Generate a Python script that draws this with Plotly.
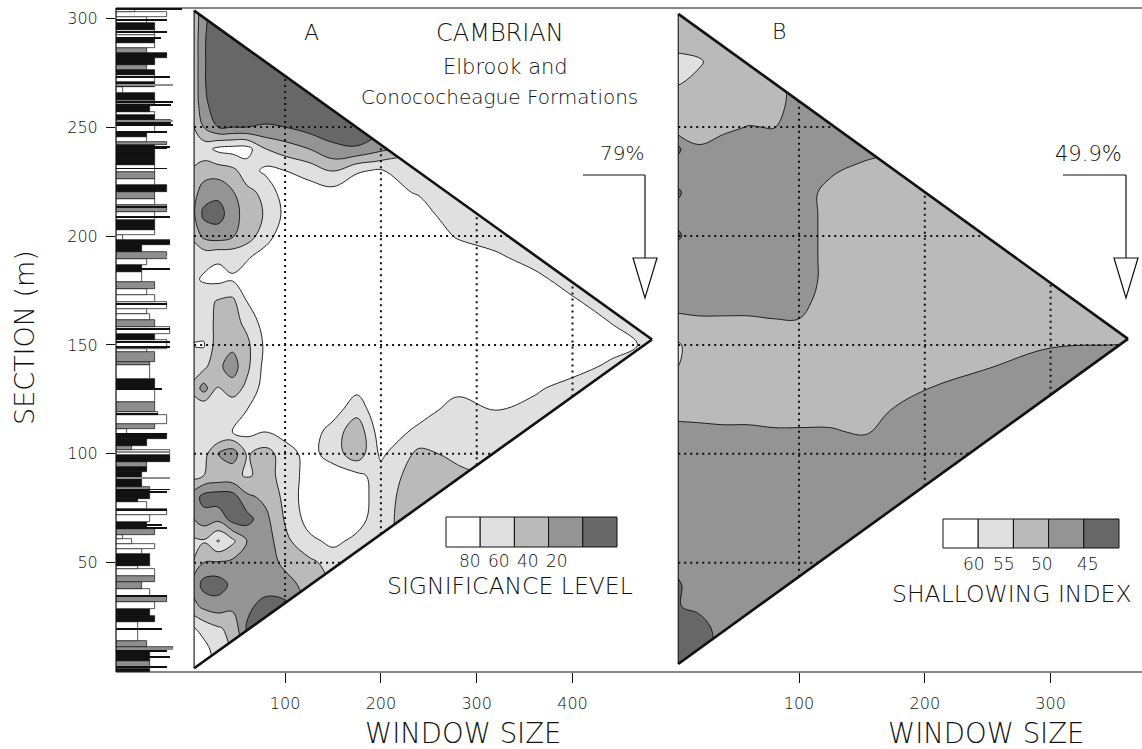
import plotly.graph_objects as go

FIG_W, FIG_H = 1142, 749
FONT = "DejaVu Sans"
INK = "#111111"

# ---------------- stratigraphic column (listed from base to top) ----------------
bed_top = [1.2, 5.0, 8.9, 10.2, 11.2, 14.2, 19.6, 22.7, 25.7, 28.8, 31.8, 34.9, 38.0, 41.0,
           44.0, 47.2, 48.7, 54.1, 56.4, 58.7, 61.0, 62.5, 65.5, 68.6, 71.7, 74.8, 77.8, 79.3,
           83.2, 84.7, 91.6, 93.9, 96.2, 99.3, 101.6, 103.8, 106.9, 109.2, 111.5, 113.8, 117.7,
           119.2, 123.8, 129.9, 134.5, 140.6, 142.2, 146.8, 148.3, 152.1, 155.2, 158.2, 161.3,
           164.4, 166.7, 169.7, 172.8, 175.9, 178.9, 183.5, 186.6, 189.6, 192.7, 195.8, 198.1,
           200.4, 202.7, 207.3, 211.1, 214.1, 217.2, 220.3, 223.3, 226.4, 229.5, 232.5, 238.7,
           241.7, 243.3, 245.6, 247.9, 250.9, 253.2, 255.5, 257.0, 260.1, 262.4, 265.5, 268.5,
           270.8, 273.9, 276.2, 278.5, 281.6, 283.9, 286.2, 288.5, 290.8, 292.3, 294.6, 297.6,
           300.7, 303.0, 304.5]
bed_texture = [2.65, 2.65, 2.65, 2.8, 4.45, 2.4, 1.7, 1.7, 3.05, 2.65, 3.05, 4.0, 2.65, 2.0,
               3.05, 3.05, 1.7, 2.65, 2.0, 3.05, 1.25, 0.55, 3.05, 2.4, 2.65, 4.0, 2.4, 1.7,
               2.65, 2.65, 2.0, 2.4, 2.4, 4.2, 4.2, 1.25, 2.4, 4.0, 0.85, 3.05, 4.0,
               3.3, 3.05, 3.05, 3.05, 2.65, 2.65, 3.05, 2.4, 4.0, 3.05, 4.2, 3.05,
               2.65, 2.4, 4.0, 3.05, 2.4, 3.05, 2.0, 2.0, 2.4, 4.0, 2.0, 4.2,
               0.55, 3.05, 3.05, 3.05, 4.0, 3.05, 3.05, 4.0, 3.05, 3.05, 3.05, 3.05,
               3.05, 4.0, 2.4, 2.4, 3.05, 4.3, 3.05, 3.05, 2.65, 3.05, 3.05, 0.55,
               3.05, 3.05, 3.05, 2.4, 3.05, 4.0, 2.4, 3.05, 3.05, 3.05, 3.05, 3.05,
               2.4, 4.0, 1.5]
bed_shade = ["k", "g", "k", "g", "g", "g", "w", "w", "k", "k", "w", "g", "w", "g",
             "g", "w", "w", "k", "w", "w", "w", "w", "g", "k", "w", "w", "w", "k",
             "k", "g", "k", "k", "g", "k", "w", "g", "k", "k", "w", "g", "w",
             "w", "g", "w", "k", "w", "g", "g", "w", "w", "k", "w", "g",
             "w", "w", "w", "w", "w", "g", "w", "k", "w", "g", "k", "k",
             "w", "w", "k", "w", "g", "w", "g", "k", "w", "g", "w", "k",
             "k", "g", "w", "k", "w", "k", "k", "w", "k", "g", "k", "w",
             "k", "w", "k", "g", "k", "k", "g", "w", "k", "w", "w", "k",
             "w", "w", "w"]

# thin laminae that run past the bed outlines
streak_m = [2.0, 6.6, 9.6, 10.4, 19.6, 34.6, 65.9, 67.1, 74.0, 82.4, 83.6, 88.8, 97.0, 98.5,
            100.8, 109.2, 118.4, 129.9, 149.0, 151.3, 157.5, 168.9, 185.0, 190.4, 197.3,
            208.8, 213.4, 231.0, 240.2, 241.0, 247.9, 250.9, 252.8, 260.1, 261.6, 269.3,
            273.1, 283.4, 290.8, 293.8, 299.2, 304.2]
streak_texture = [4.0, 4.2, 4.0, 4.45, 3.57, 4.0, 4.0, 3.57, 4.0, 4.0, 4.2, 4.2, 4.2, 4.2,
                  4.2, 4.0, 3.3, 3.57, 4.2, 4.2, 4.2, 4.0, 4.2, 4.0, 4.2,
                  4.2, 4.0, 4.0, 4.0, 4.2, 4.0, 4.45, 4.45, 4.3, 4.45, 4.45,
                  4.2, 4.0, 3.5, 4.0, 4.0, 5.1]
streak_shade = ["k", "k", "k", "g", "k", "k", "k", "k", "k", "k", "k", "g", "k", "k",
                "g", "k", "k", "k", "k", "k", "k", "k", "k", "g", "k",
                "k", "k", "k", "k", "k", "k", "k", "g", "k", "k", "g",
                "k", "k", "k", "k", "k", "k"]

SHADE_COLOR = {"k": INK, "g": "#8e8e8e", "w": "#ffffff"}

# ---------------- panel A: significance level ----------------
A_WINDOW = [0, 15, 30, 45, 60, 80, 100, 125, 150, 175, 200, 240, 280, 320, 360, 400, 440, 490]
A_SECTION = list(range(0, 311, 10))
A_SIGNIFICANCE = [
    [92, 90, 75, 60, 25, 12, 15, 45, 60, 65, 65, 45, 50, 65, 65, 65, 65, 68],   # 0
    [90, 88, 70, 58, 25, 12, 15, 45, 60, 65, 65, 45, 50, 65, 65, 65, 65, 68],   # 10
    [85, 72, 62, 55, 18, 12, 15, 45, 60, 65, 65, 45, 50, 65, 65, 65, 65, 68],   # 20
    [50, 35, 30, 35, 25, 12, 15, 45, 60, 65, 65, 45, 50, 65, 65, 65, 65, 68],   # 30
    [45, 12, 10, 25, 35, 30, 32, 48, 62, 65, 65, 45, 50, 65, 65, 65, 65, 68],   # 40
    [65, 40, 38, 35, 28, 30, 45, 55, 68, 68, 65, 45, 50, 65, 65, 65, 65, 68],   # 50
    [65, 62, 82, 65, 40, 30, 55, 75, 85, 75, 68, 45, 50, 65, 65, 65, 65, 68],   # 60
    [45, 30, 35, 12, 12, 35, 62, 88, 92, 88, 68, 45, 50, 65, 65, 65, 65, 68],   # 70
    [40, 12, 8, 10, 35, 45, 65, 92, 95, 90, 70, 45, 50, 65, 65, 65, 65, 68],    # 80
    [65, 60, 55, 55, 62, 55, 65, 90, 92, 85, 72, 50, 55, 65, 65, 65, 65, 68],   # 90
    [80, 68, 40, 28, 62, 52, 70, 88, 70, 48, 84, 55, 65, 65, 65, 65, 65, 68],   # 100
    [78, 78, 80, 80, 85, 80, 88, 90, 72, 45, 92, 75, 70, 72, 65, 65, 65, 68],   # 110
    [72, 80, 75, 75, 80, 92, 95, 95, 88, 68, 95, 88, 72, 80, 72, 65, 65, 68],   # 120
    [62, 32, 62, 50, 65, 90, 95, 95, 95, 85, 95, 95, 85, 92, 84, 70, 65, 68],   # 130
    [70, 65, 45, 30, 55, 88, 95, 95, 95, 95, 95, 95, 95, 95, 95, 90, 75, 68],   # 140
    [80, 82, 48, 45, 55, 85, 95, 95, 95, 95, 95, 95, 95, 95, 95, 95, 90, 72],   # 150
    [75, 70, 55, 52, 65, 90, 95, 95, 95, 95, 95, 95, 95, 95, 95, 94, 80, 68],   # 160
    [78, 68, 58, 55, 80, 92, 95, 95, 95, 95, 95, 95, 95, 95, 95, 84, 65, 68],   # 170
    [75, 82, 85, 82, 90, 92, 95, 95, 95, 95, 95, 95, 95, 92, 88, 68, 65, 68],   # 180
    [72, 75, 78, 75, 78, 90, 95, 95, 95, 95, 95, 95, 92, 85, 70, 65, 65, 68],   # 190
    [62, 35, 30, 38, 50, 72, 92, 95, 95, 95, 95, 95, 78, 68, 65, 65, 65, 68],   # 200
    [55, 15, 12, 30, 50, 62, 85, 95, 95, 95, 95, 90, 66, 65, 65, 65, 65, 68],   # 210
    [55, 30, 25, 38, 55, 65, 92, 90, 88, 92, 88, 78, 65, 65, 65, 65, 65, 68],   # 220
    [60, 50, 50, 55, 70, 85, 80, 72, 58, 78, 82, 65, 65, 65, 65, 65, 65, 68],   # 230
    [72, 72, 85, 88, 88, 60, 50, 40, 25, 22, 35, 60, 65, 65, 65, 65, 65, 68],   # 240
    [70, 40, 20, 20, 20, 22, 20, 12, 8, 8, 15, 60, 65, 65, 65, 65, 65, 68],     # 250
    [70, 24, 12, 8, 8, 8, 8, 8, 8, 8, 10, 60, 65, 65, 65, 65, 65, 68],          # 260
    [68, 22, 8, 8, 8, 8, 8, 8, 8, 8, 10, 60, 65, 65, 65, 65, 65, 68],           # 270
    [68, 22, 8, 10, 8, 8, 8, 8, 8, 8, 10, 60, 65, 65, 65, 65, 65, 68],          # 280
    [68, 22, 8, 10, 10, 8, 8, 8, 8, 8, 10, 60, 65, 65, 65, 65, 65, 68],         # 290
    [70, 24, 8, 10, 10, 8, 8, 8, 8, 8, 10, 60, 65, 65, 65, 65, 65, 68],         # 300
    [70, 24, 8, 10, 10, 8, 8, 8, 8, 8, 10, 60, 65, 65, 65, 65, 65, 68],         # 310
]
A_LEVELS = [20, 40, 60, 80]
A_LEGEND_LABELS = ["80", "60", "40", "20"]
A_TRIANGLE = dict(w0=5.0, w1=483.0, base=1.5, top=303.5)
A_XTICKS = [100, 200, 300, 400]
A_NOTE = "79%"

# ---------------- panel B: shallowing index ----------------
B_WINDOW = [0, 20, 40, 60, 80, 100, 125, 150, 200, 250, 300, 370]
B_SECTION = list(range(0, 311, 10))
B_SHALLOWING = [
    [45, 42, 47, 47, 47, 47, 47, 47, 47, 47, 47, 47],            # 0
    [42, 42, 47, 47, 47, 47, 47, 47, 47, 47, 47, 47],            # 10
    [42, 43, 47, 47, 47, 47, 47, 47, 47, 47, 47, 47],            # 20
    [44.5, 46, 47, 47, 47, 47, 47, 47, 47, 47, 47, 47],          # 30
    [44, 47, 47, 47, 47, 47, 47, 47, 47, 47, 47, 47],            # 40
    [46, 47, 47, 47, 47, 47, 47, 47, 47, 47, 47, 47],            # 50
    [47, 47, 47, 47, 47, 47, 47, 47, 47, 47, 47, 47],            # 60
    [47, 47, 47, 47, 47, 47, 47, 47, 47, 47, 47, 47],            # 70
    [46, 47, 47, 47, 47, 47, 47, 47, 47, 47, 47, 47],            # 80
    [47, 47, 47, 47, 47, 47, 47, 47, 47, 47, 47, 47],            # 90
    [47, 47, 47, 47, 47, 47, 47, 47, 47, 47, 47, 47],            # 100
    [48, 48.5, 49, 49, 49.5, 49.5, 49.5, 50.5, 47, 47, 47, 47],  # 110
    [52, 52, 52, 52, 52, 52, 52, 52.5, 47, 47, 47, 47],          # 120
    [53, 53, 53, 53, 53, 53, 53, 53, 50.2, 47.5, 47, 47],        # 130
    [55.5, 53, 53, 53, 53, 53, 53, 53, 53, 50.3, 47, 47],        # 140
    [56, 53, 53, 53, 53, 53, 53, 53, 53, 53, 50.5, 49.8],        # 150
    [52, 51, 51, 51, 50.5, 50.5, 53, 53, 53, 53, 53, 53],        # 160
    [48, 48, 48, 48, 48, 48, 53, 53, 53, 53, 53, 53],            # 170
    [47, 47, 47, 47, 47, 47, 52, 53, 53, 53, 53, 53],            # 180
    [47, 47, 47, 47, 47, 47, 52, 53, 53, 53, 53, 53],            # 190
    [44, 47, 47, 47, 47, 47, 52, 53, 53, 53, 53, 53],            # 200
    [46, 47, 47, 47, 47, 47, 52, 53, 53, 53, 53, 53],            # 210
    [44, 47, 47, 47, 47, 47, 52, 53, 53, 53, 53, 53],            # 220
    [47, 47, 47, 47, 47, 47, 49, 52, 53, 53, 53, 53],            # 230
    [43, 49.5, 48, 47, 47, 47, 47, 47, 53, 53, 53, 53],          # 240
    [51.5, 52, 51, 49.8, 50.2, 47, 47, 47, 53, 53, 53, 53],      # 250
    [52, 53, 53, 52.5, 52.5, 47, 47, 47, 53, 53, 53, 53],        # 260
    [55.5, 54, 53, 53, 53, 47, 47, 47, 53, 53, 53, 53],          # 270
    [56.5, 55.5, 53, 53, 53, 47, 47, 47, 53, 53, 53, 53],        # 280
    [53, 53, 53, 53, 53, 47, 47, 47, 53, 53, 53, 53],            # 290
    [53, 53, 53, 53, 53, 47, 47, 47, 53, 53, 53, 53],            # 300
    [53, 53, 53, 53, 53, 47, 47, 47, 53, 53, 53, 53],            # 310
]
B_LEVELS = [45, 50, 55, 60]
B_LEGEND_LABELS = ["60", "55", "50", "45"]
B_TRIANGLE = dict(w0=4.0, w1=361.5, base=3.5, top=302.0)
B_XTICKS = [100, 200, 300]
B_NOTE = "49.9%"

SECTION_TICKS = [50, 100, 150, 200, 250, 300]
GRID_SECTION = [50, 100, 150, 200, 250]

# fills from lowest band to highest band
GREYS = ["#676767", "#949494", "#bababa", "#e0e0e0", "#ffffff"]


# ---------------- helpers (pixel layout -> paper fractions) ----------------
def px(x):
    return x / FIG_W


def py(y):
    return 1 - y / FIG_H


def band_scale():
    n = len(GREYS) - 1
    return [[i / n, c] for i, c in enumerate(GREYS)]


def contour_trace(xs, ys, zs, levels, xaxis):
    step = levels[1] - levels[0]
    return go.Contour(
        x=xs, y=ys, z=zs, xaxis=xaxis, yaxis="y",
        autocontour=False,
        contours=dict(start=levels[0], end=levels[-1], size=step, coloring="fill"),
        colorscale=band_scale(), showscale=False,
        line=dict(color=INK, width=0.9, smoothing=1.1),
        hoverinfo="skip",
    )


def triangle_shapes(xref, tri, grid_w):
    w0, w1, base, top = tri["w0"], tri["w1"], tri["base"], tri["top"]
    apex = (base + top) / 2
    out = []
    # white out everything beyond the triangular data domain
    path = (f"M {w0-45},{base-25} L {w1+45},{base-25} L {w1+45},{top+25} L {w0-45},{top+25} Z "
            f"M {w0},{base} L {w1},{apex} L {w0},{top} Z")
    out.append(dict(type="path", xref=xref, yref="y", path=path, fillcolor="white",
                    fillrule="evenodd", line=dict(width=0), layer="above"))
    dot = dict(color=INK, width=2, dash="2px,4px")
    for m in GRID_SECTION:
        frac = (top - m) / (top - apex) if m >= apex else (m - base) / (apex - base)
        out.append(dict(type="line", xref=xref, yref="y", x0=w0, x1=w0 + (w1 - w0) * frac,
                        y0=m, y1=m, line=dot, layer="above"))
    for w in grid_w:
        f = (w - w0) / (w1 - w0)
        out.append(dict(type="line", xref=xref, yref="y", x0=w, x1=w,
                        y0=base + (apex - base) * f, y1=top - (top - apex) * f,
                        line=dot, layer="above"))
    edge = dict(color=INK, width=2.6)
    out.append(dict(type="line", xref=xref, yref="y", x0=w0, x1=w1, y0=top, y1=apex, line=edge, layer="above"))
    out.append(dict(type="line", xref=xref, yref="y", x0=w0, x1=w1, y0=base, y1=apex, line=edge, layer="above"))
    out.append(dict(type="line", xref=xref, yref="y", x0=w0, x1=w0, y0=base, y1=top,
                    line=dict(color=INK, width=1.1), layer="above"))
    return out


def legend_shapes(x_left, x_right, y_top, y_bot):
    out = []
    n = len(GREYS)
    step = (x_right - x_left) / n
    for i, c in enumerate(reversed(GREYS)):
        out.append(dict(type="rect", xref="paper", yref="paper",
                        x0=px(x_left + i * step), x1=px(x_left + (i + 1) * step),
                        y0=py(y_bot), y1=py(y_top), fillcolor=c,
                        line=dict(color=INK, width=1), layer="above"))
    return out


def arrow_shapes(x_start, x_turn, y_line, y_head, y_tip, half):
    ln = dict(color=INK, width=1.2)
    return [
        dict(type="line", xref="paper", yref="paper", x0=px(x_start), x1=px(x_turn),
             y0=py(y_line), y1=py(y_line), line=ln, layer="above"),
        dict(type="line", xref="paper", yref="paper", x0=px(x_turn), x1=px(x_turn),
             y0=py(y_line), y1=py(y_head), line=ln, layer="above"),
        dict(type="path", xref="paper", yref="paper",
             path=(f"M {px(x_turn-half)},{py(y_head)} L {px(x_turn+half)},{py(y_head)} "
                   f"L {px(x_turn)},{py(y_tip)} Z"),
             fillcolor="white", line=ln, layer="above"),
    ]


def text(x, y, s, size, angle=0):
    return dict(x=px(x), y=py(y), xref="paper", yref="paper", text=s, showarrow=False,
                xanchor="center", yanchor="middle", textangle=angle,
                font=dict(family=FONT, size=size, color=INK, weight=300))


# ---------------- traces ----------------
bed_base = [0.0] + bed_top[:-1]
bed_mid = [(b + t) / 2 for b, t in zip(bed_base, bed_top)]
bed_thick = [t - b for b, t in zip(bed_base, bed_top)]

fig = go.Figure()
fig.add_trace(go.Bar(
    orientation="h", x=bed_texture, y=bed_mid, width=bed_thick, base=0,
    marker=dict(color=[SHADE_COLOR[s] for s in bed_shade], line=dict(color=INK, width=0.7)),
    xaxis="x", yaxis="y", hoverinfo="skip",
))
fig.add_trace(go.Bar(
    orientation="h", x=streak_texture, y=streak_m, width=[0.45] * len(streak_m), base=0,
    marker=dict(color=[SHADE_COLOR[s] for s in streak_shade], line=dict(width=0)),
    xaxis="x", yaxis="y", hoverinfo="skip",
))
fig.add_trace(contour_trace(A_WINDOW, A_SECTION, A_SIGNIFICANCE, A_LEVELS, "x2"))
fig.add_trace(contour_trace(B_WINDOW, B_SECTION, B_SHALLOWING, B_LEVELS, "x3"))

# ---------------- shapes ----------------
shapes = []
shapes += triangle_shapes("x2", A_TRIANGLE, A_XTICKS)
shapes += triangle_shapes("x3", B_TRIANGLE, B_XTICKS)
shapes += legend_shapes(446, 617, 517, 547)
shapes += legend_shapes(943, 1119, 519, 548)
shapes += arrow_shapes(583, 645, 175, 258, 298, 12)
shapes += arrow_shapes(1063, 1126, 175, 258, 298, 12)
frame = dict(color=INK, width=1.2)
shapes += [
    dict(type="line", xref="paper", yref="paper", x0=px(116), x1=1, y0=py(8), y1=py(8), line=frame, layer="above"),
    dict(type="line", xref="paper", yref="paper", x0=px(116), x1=1, y0=py(672), y1=py(672), line=frame, layer="above"),
    dict(type="line", xref="paper", yref="paper", x0=px(116), x1=px(116), y0=py(8), y1=py(672), line=frame, layer="above"),
]

# ---------------- annotations ----------------
ann = [
    text(311, 33, "A", 22),
    text(500, 33, "CAMBRIAN", 24),
    text(505, 67, "Elbrook and", 21),
    text(499, 97, "Conococheague Formations", 20),
    text(622, 153, A_NOTE, 20),
    text(779, 32, "B", 22),
    text(1088, 154, B_NOTE, 21),
    text(510, 586, "SIGNIFICANCE LEVEL", 23.5),
    text(1012, 594, "SHALLOWING INDEX", 23.5),
    text(463, 733, "WINDOW SIZE", 27.5),
    text(986, 733, "WINDOW SIZE", 27.5),
    text(24, 338, "SECTION (m)", 27, angle=-90),
]
for lab, x in zip(A_LEGEND_LABELS, [470, 499, 528, 557]):
    ann.append(text(x, 561, lab, 17))
for lab, x in zip(B_LEGEND_LABELS, [974, 1004, 1042, 1088]):
    ann.append(text(x, 564, lab, 17))

# ---------------- layout ----------------
y_dom = [py(672), py(8)]
tickfont = dict(family=FONT, size=16, color=INK, weight=300)
fig.update_layout(
    width=FIG_W, height=FIG_H,
    margin=dict(l=0, r=0, t=0, b=0),
    paper_bgcolor="white", plot_bgcolor="white",
    showlegend=False, barmode="overlay", bargap=0,
    shapes=shapes, annotations=ann,
    xaxis=dict(domain=[px(116), px(186)], range=[0, 5.45], visible=False, fixedrange=True),
    yaxis=dict(domain=y_dom, range=[-0.2, 304.7], anchor="x",
               tickvals=SECTION_TICKS, ticktext=[str(v) for v in SECTION_TICKS],
               ticks="outside", ticklen=9, tickwidth=1, tickcolor=INK,
               ticklabelstandoff=5, tickfont=tickfont,
               showline=False, showgrid=False, zeroline=False),
    xaxis2=dict(domain=[px(186), px(660)], range=[(186 - 189.3) / 0.958, (660 - 189.3) / 0.958],
                anchor="y", tickvals=A_XTICKS, ticks="outside", ticklen=10, tickwidth=1,
                tickcolor=INK, ticklabelstandoff=7, tickfont=tickfont,
                showline=False, showgrid=False, zeroline=False),
    xaxis3=dict(domain=[px(660), 1], range=[(660 - 673.2) / 1.258, (1142 - 673.2) / 1.258],
                anchor="y", tickvals=B_XTICKS, ticks="outside", ticklen=10, tickwidth=1,
                tickcolor=INK, ticklabelstandoff=7, tickfont=tickfont,
                showline=False, showgrid=False, zeroline=False),
)

fig.write_html("out.html")
